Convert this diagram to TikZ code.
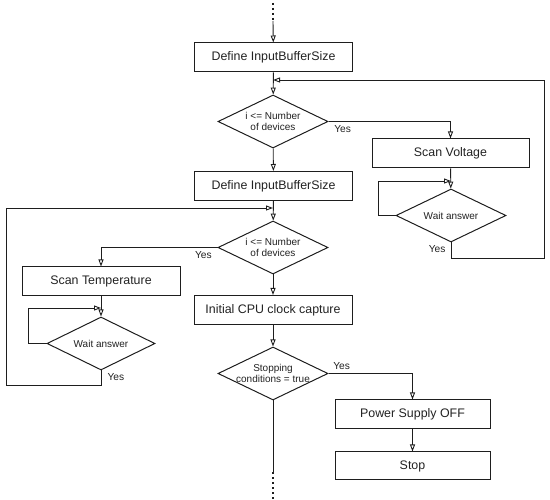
\documentclass[tikz,border=0pt]{standalone}
\usepackage{fontspec}
\setmainfont{Liberation Sans}
\usepackage{tikz}
\usetikzlibrary{arrows.meta,positioning,calc,shapes.geometric}
\definecolor{flowline}{HTML}{1E1E1E}
\definecolor{flowtext}{HTML}{222222}

\begin{document}
\begin{tikzpicture}[x=1pt,y=-1pt,
  box/.style={draw=flowline,line width=1pt,minimum height=29pt,minimum width=158pt,
              font=\fontsize{12.4}{14}\selectfont,text=flowtext,inner sep=0pt},
  cond/.style={draw=flowline,line width=1pt,diamond,aspect=2.1,minimum width=110pt,minimum height=53pt,
              inner sep=0pt,font=\fontsize{10}{11.5}\selectfont,text=flowtext,align=center},
  arr/.style={-{Triangle[open,length=7pt,width=5pt]},line width=0.9pt,color=flowline},
  yes/.style={font=\fontsize{10.2}{12}\selectfont,text=flowtext},
  dots/.style={line width=2.2pt,dash pattern=on 2pt off 3pt,color=flowline}
]
  \useasboundingbox (0,0) rectangle (550,500);

  % Voltage loop
  \coordinate (topdots) at (273,3);
  \coordinate (topin) at (273,21);
  \node[box] (def1) at (273.5,57.5) {Define InputBufferSize};
  \node[cond] (cnt1) at (273,121.5) {i <= Number\\of devices};
  \node[box,minimum width=157pt] (scanv) at (450.5,153.5) {Scan Voltage};
  \node[cond] (waitv) at (451,215.5) {Wait answer};
  \coordinate (vjoin) at (273,80);
  \coordinate (vright) at (544,80);
  \coordinate (vwait) at (451,181);

  % Temperature loop
  \node[box] (def2) at (273.5,186) {Define InputBufferSize};
  \node[cond] (cnt2) at (273,247.5) {i <= Number\\of devices};
  \node[box] (scant) at (101,281.5) {Scan Temperature};
  \node[cond,minimum width=108pt] (waitt) at (101,343.5) {Wait answer};
  \coordinate (tjoin) at (273,208);
  \coordinate (tleft) at (6,208);
  \coordinate (twait) at (101,308);

  % Stop branch
  \node[box] (clock) at (273,310) {Initial CPU clock capture};
  \node[cond,inner xsep=-3pt] (stopcond) at (273,373.5) {Stopping\\conditions = true};
  \node[box,minimum width=155pt] (psoff) at (412.5,414.5) {Power Supply OFF};
  \node[box,minimum width=155pt,minimum height=28pt] (stop) at (412.5,466) {Stop};
  \coordinate (botin) at (273,472);
  \coordinate (botdots) at (273,499);

  % Arrows
  \draw[dots] (topdots) -- (topin);
  \draw[arr] (topin) -- (def1);
  \draw[arr] (def1) -- (cnt1);
  \draw[arr] (cnt1.east) -| (scanv.north) node[yes,pos=0,anchor=north west,xshift=2pt] {Yes};
  \draw[arr] (scanv) -- (waitv);
  \draw[arr] (waitv.west) -- ++(-17,0) |- (vwait);
  \draw[arr] (waitv.south) -- ++(0,16) -| (vright) -- (vjoin);
  \node[yes,anchor=north east] at ($(waitv.south)+(-2,-1)$) {Yes};

  \draw[arr] (cnt1) -- (def2);
  \draw[arr] (def2) -- (cnt2);
  \draw[arr] (cnt2.west) -| (scant.north) node[yes,pos=0,anchor=north east,xshift=-2pt] {Yes};
  \draw[arr] (scant) -- (waitt);
  \draw[arr] (waitt.west) -- ++(-18,0) |- (twait);
  \draw[arr] (waitt.south) -- ++(0,15) -| (tleft) -- (tjoin);
  \node[yes,anchor=north west] at ($(waitt.south)+(3,-1)$) {Yes};

  \draw[arr] (cnt2) -- (clock);
  \draw[arr] (clock) -- (stopcond);
  \draw[arr] (stopcond.east) -| (psoff.north) node[yes,pos=0,anchor=south west,xshift=1pt] {Yes};
  \draw[arr] (psoff) -- (stop);
  \draw[line width=0.9pt,color=flowline] (stopcond.south) -- (botin);
  \draw[dots] (botin) -- (botdots);
\end{tikzpicture}
\end{document}
